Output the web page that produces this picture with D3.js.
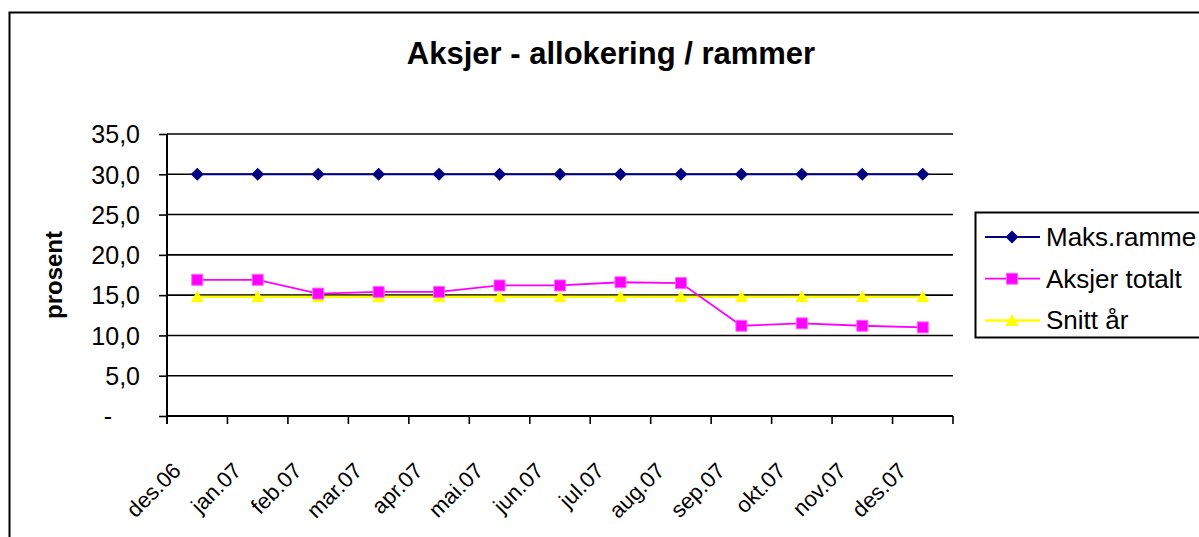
<!DOCTYPE html>
<html>
<head>
<meta charset="utf-8">
<script src="https://d3js.org/d3.v7.min.js"></script>
<style>
  body { margin: 0; background: #fff; }
  text { font-family: "Liberation Sans", Arial, sans-serif; fill: #000; }
</style>
</head>
<body>
<svg></svg>
<script>
var w = 1199, h = 537;

var months = ["des.06", "jan.07", "feb.07", "mar.07", "apr.07", "mai.07", "jun.07",
              "jul.07", "aug.07", "sep.07", "okt.07", "nov.07", "des.07"];
var maksRamme = [30, 30, 30, 30, 30, 30, 30, 30, 30, 30, 30, 30, 30];
var aksjerTotalt = [16.9, 16.9, 15.2, 15.4, 15.4, 16.2, 16.2, 16.6, 16.5, 11.2, 11.5, 11.2, 11.0];
var snittAr = [14.8, 14.8, 14.8, 14.8, 14.8, 14.8, 14.8, 14.8, 14.8, 14.8, 14.8, 14.8, 14.8];
var yTicks = [0, 5, 10, 15, 20, 25, 30, 35];
var seriesNames = ["Maks.ramme", "Aksjer totalt", "Snitt år"];

var series = [
  { name: seriesNames[0], values: maksRamme, color: "#000080", marker: "diamond", width: 2 },
  { name: seriesNames[1], values: aksjerTotalt, color: "#ff00ff", marker: "square", width: 1.8 },
  { name: seriesNames[2], values: snittAr, color: "#ffff00", marker: "triangle", width: 2.5 }
];

var svg = d3.select("svg").attr("width", w).attr("height", h);

// outer chart frame (runs off the right / bottom edge)
svg.append("rect")
  .attr("x", 9.5).attr("y", 12.5)
  .attr("width", 1230).attr("height", 560)
  .attr("fill", "none").attr("stroke", "#000").attr("stroke-width", 2);

svg.append("text")
  .attr("x", 611).attr("y", 64)
  .attr("text-anchor", "middle")
  .style("font-size", "31px").style("font-weight", "bold")
  .text("Aksjer - allokering / rammer");

var x = d3.scaleBand().domain(months).range([167, 953]);
var y = d3.scaleLinear().domain([0, 35]).range([416, 134]);

// gridlines
svg.append("g").selectAll("line")
  .data(yTicks.filter(function(d){ return d > 0; }))
  .enter().append("line")
  .attr("x1", 167).attr("x2", 953)
  .attr("y1", function(d){ return y(d); })
  .attr("y2", function(d){ return y(d); })
  .attr("stroke", "#000").attr("stroke-width", 1.6);

// y axis
var yAxis = svg.append("g")
  .attr("transform", "translate(167,0)")
  .call(d3.axisLeft(y).tickValues(yTicks).tickSize(8).tickPadding(19)
    .tickFormat(function(d){ return d === 0 ? "-\u2007\u2007" : d3.format(".1f")(d).replace(".", ","); }));
yAxis.select(".domain").attr("stroke-width", 2).attr("d", "M0," + y(35) + "V" + (y(0) + 8));
yAxis.selectAll(".tick line").attr("stroke-width", 1.6);
yAxis.selectAll("text").style("font-size", "25px").attr("font-family", null).attr("dy", "0.35em");

svg.append("text")
  .attr("transform", "translate(62,275) rotate(-90)")
  .attr("text-anchor", "middle")
  .style("font-size", "24px").style("font-weight", "bold")
  .text("prosent");

// x axis: ticks on category boundaries
var bounds = months.map(function(m){ return x(m); }).concat([x.range()[1]]);
var xAxis = svg.append("g");
xAxis.append("line")
  .attr("x1", 167).attr("x2", 953).attr("y1", y(0)).attr("y2", y(0))
  .attr("stroke", "#000").attr("stroke-width", 2);
xAxis.selectAll(".xt").data(bounds).enter().append("line")
  .attr("x1", function(d){ return d; }).attr("x2", function(d){ return d; })
  .attr("y1", y(0)).attr("y2", y(0) + 8)
  .attr("stroke", "#000").attr("stroke-width", 1.6);
xAxis.selectAll("text").data(months).enter().append("text")
  .attr("text-anchor", "end")
  .attr("transform", function(d){
    return "translate(" + (x(d) + x.bandwidth() / 2 - 15) + "," + (y(0) + 56) + ") rotate(-45)";
  })
  .style("font-size", "22px")
  .text(function(d){ return d; });

function markerPath(type) {
  if (type === "diamond") return "M0,-6.5L6.5,0L0,6.5L-6.5,0Z";
  if (type === "square") return "M-5.5,-5.5H5.5V5.5H-5.5Z";
  return "M0,-6.5L6.5,5.5L-6.5,5.5Z";
}

var line = d3.line()
  .x(function(d, i){ return x(months[i]) + x.bandwidth() / 2; })
  .y(function(d){ return y(d); });

// draw in reverse so Maks.ramme sits on top
series.slice().reverse().forEach(function(s) {
  var g = svg.append("g");
  g.append("path")
    .attr("d", line(s.values))
    .attr("fill", "none").attr("stroke", s.color).attr("stroke-width", s.width);
  g.selectAll("path.m").data(s.values).enter().append("path")
    .attr("class", "m")
    .attr("transform", function(d, i){
      return "translate(" + (x(months[i]) + x.bandwidth() / 2) + "," + y(d) + ")";
    })
    .attr("d", markerPath(s.marker))
    .attr("fill", s.color)
    .attr("stroke", s.marker === "square" ? "#ff66ff" : "none")
    .attr("stroke-width", 1);
});

// legend
var lg = svg.append("g");
lg.append("rect")
  .attr("x", 975.5).attr("y", 212.5).attr("width", 260).attr("height", 125)
  .attr("fill", "#fff").attr("stroke", "#000").attr("stroke-width", 2);
series.forEach(function(s, i) {
  var ly = 237 + i * 41.7;
  lg.append("line")
    .attr("x1", 985).attr("x2", 1040).attr("y1", ly).attr("y2", ly)
    .attr("stroke", s.color).attr("stroke-width", s.width);
  lg.append("path")
    .attr("transform", "translate(1012," + ly + ")")
    .attr("d", markerPath(s.marker))
    .attr("fill", s.color)
    .attr("stroke", s.marker === "square" ? "#ff66ff" : "none");
  lg.append("text")
    .attr("x", 1046).attr("y", ly + 9)
    .style("font-size", "26px")
    .text(s.name);
});
</script>
</body>
</html>
